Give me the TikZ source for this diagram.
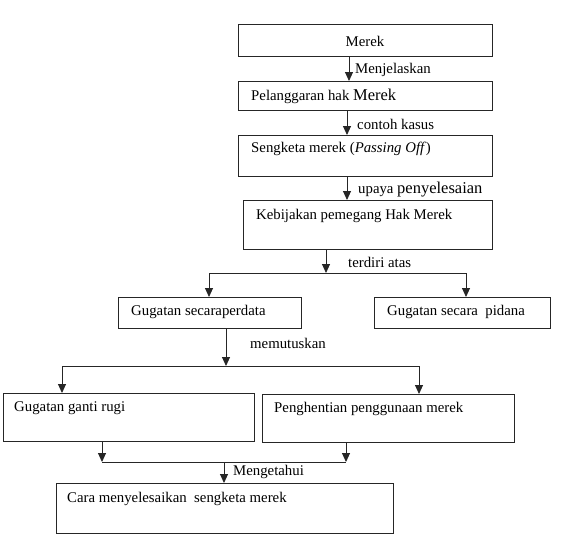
\documentclass[tikz,border=0pt]{standalone}
\usepackage{fontspec}
\setmainfont{Liberation Serif}
\usetikzlibrary{arrows.meta}
\begin{document}
\begin{tikzpicture}[x=1pt,y=-1pt,
  box/.style={draw=black!85,line width=0.9pt,rectangle,inner sep=0pt,outer sep=0pt,anchor=north west},
  txt/.style={anchor=west,inner sep=0pt,font=\fontsize{14.8}{17}\selectfont},
  arr/.style={draw=black!85,line width=0.9pt,-{Triangle[length=9pt,width=8pt]}},
  ln/.style={draw=black!85,line width=0.9pt}]
\useasboundingbox (0,0) rectangle (564,544);
% boxes
\node[box,minimum width=254pt,minimum height=32pt] (b1) at (238,24) {};
\node[box,minimum width=254pt,minimum height=29pt] (b2) at (238,81) {};
\node[box,minimum width=254pt,minimum height=41pt] (b3) at (238,135) {};
\node[box,minimum width=249pt,minimum height=49pt] (b4) at (243,200) {};
\node[box,minimum width=183pt,minimum height=31pt] (b5) at (118,297) {};
\node[box,minimum width=176pt,minimum height=31pt] (b6) at (374,297) {};
\node[box,minimum width=251pt,minimum height=48pt] (b7) at (3,393) {};
\node[box,minimum width=252pt,minimum height=48pt] (b8) at (262,394) {};
\node[box,minimum width=337pt,minimum height=50pt] (b9) at (56,483) {};
% box texts
\node[txt,anchor=center] (t1) at (365,41) {Merek};
\node[txt] (t2) at (251,96) {Pelanggaran hak {\fontsize{16.5}{18}\selectfont Merek}};
\node[txt] (t3) at (251,149) {Sengketa merek (\textit{Passing Off})};
\node[txt] (t4) at (256,216) {Kebijakan pemegang Hak Merek};
\node[txt] (t5) at (131,312) {Gugatan secaraperdata};
\node[txt] (t6) at (387,312) {Gugatan secara\ \ pidana};
\node[txt] (t7) at (14,408) {Gugatan ganti rugi};
\node[txt] (t8) at (274,409) {Penghentian penggunaan merek};
\node[txt] (t9) at (67,499) {Cara menyelesaikan\ \ sengketa merek};
% connector labels
\node[txt] (l1) at (355,70) {Menjelaskan};
\node[txt] (l2) at (357,124) {contoh kasus};
\node[txt] (l3) at (358,190) {upaya {\fontsize{16.5}{18}\selectfont penyelesaian}};
\node[txt] (l4) at (348,262) {terdiri atas};
\node[txt] (l5) at (250,343) {memutuskan};
\node[txt] (l6) at (233,472) {Mengetahui};
% coordinates
\coordinate (x1) at (349,0);
\coordinate (x2) at (347,0);
\coordinate (j1) at (326,273);
\coordinate (j1l) at (209,273);
\coordinate (j1r) at (466,273);
\coordinate (j2) at (226,366);
\coordinate (j2l) at (62,366);
\coordinate (j2r) at (419,366);
\coordinate (j3l) at (102,462);
\coordinate (j3r) at (346,462);
\coordinate (j3) at (224,462);
% connectors
\draw[arr] (b1.south -| x1) -- (b2.north -| x1);
\draw[arr] (b2.south -| x2) -- (b3.north -| x2);
\draw[arr] (b3.south -| x2) -- (b4.north -| x2);
\draw[arr] (b4.south -| j1) -- (j1);
\draw[ln] (j1l) -- (j1r);
\draw[arr] (j1l) -- (b5.north -| j1l);
\draw[arr] (j1r) -- (b6.north -| j1r);
\draw[arr] (b5.south -| j2) -- (j2);
\draw[ln] (j2l) -- (j2r);
\draw[arr] (j2l) -- (b7.north -| j2l);
\draw[arr] (j2r) -- (b8.north -| j2r);
\draw[arr] (b7.south -| j3l) -- (j3l);
\draw[arr] (b8.south -| j3r) -- (j3r);
\draw[ln] (j3l) -- (j3r);
\draw[arr] (j3) -- (b9.north -| j3);
\end{tikzpicture}
\end{document}
